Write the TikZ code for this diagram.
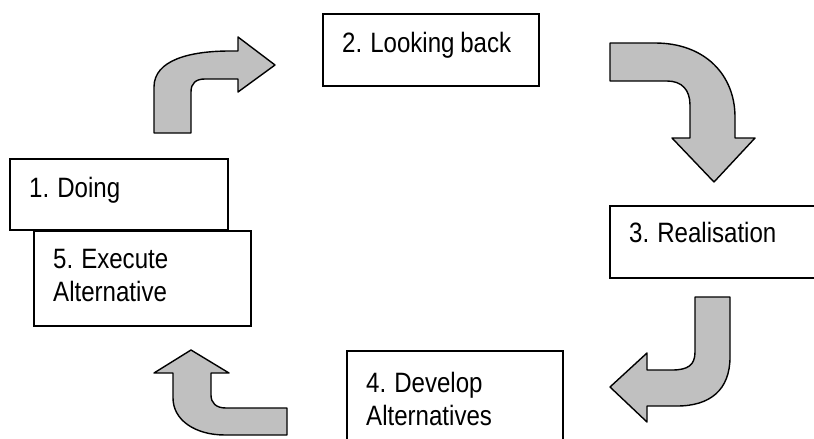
\documentclass[tikz,border=0pt]{standalone}
\usepackage{fontspec}
\usepackage{tikz}
\usetikzlibrary{positioning}

\newfontfamily\phasefont{Liberation Sans}[FakeStretch=0.86,WordSpace=0.86]
\definecolor{arrowgray}{RGB}{192,192,192}

\tikzset{
    phase/.style={draw,fill=white,line width=2pt,inner sep=0pt,anchor=north west},
    phasetxt/.style={inner sep=0pt,align=left,font=\phasefont\fontsize{28}{33}\selectfont},
    bentarrow/.style={draw,fill=arrowgray,line width=1.4pt,line join=round}
}

\begin{document}
\begin{tikzpicture}[x=1pt,y=-1pt]

\clip (0,0) rectangle (814,439);

\newcommand\phasebox[7]
{
    \node (#1) [phase,minimum width=#4pt,minimum height=#5pt] at (#2,#3) {};
    \node (#1txt) [phasetxt,below right=#6pt and 20pt of #1.north west] {\strut #7};
}

\phasebox{doing}{9}{158}{218}{71}{16}{1. Doing}
\phasebox{execute}{33}{230}{217}{95}{15}{5. Execute\\Alternative}
\phasebox{lookback}{322}{13}{216}{72}{16}{2. Looking back}
\phasebox{realise}{609}{205}{230}{72}{14}{3. Realisation}
\phasebox{develop}{346}{350}{216}{100}{19}{4. Develop\\Alternatives}

\draw [bentarrow] (154,133) -- (154,87) .. controls (154,60) and (190,51) .. (230,51) -- (238,51) -- (238,37) -- (275,65) -- (238,92) -- (238,79) -- (205,79) .. controls (196,79) and (191,83) .. (191,92) -- (191,133) -- cycle;

\draw [bentarrow] (610,43) -- (655,43) .. controls (705,43) and (735,75) .. (735,117) -- (735,138) -- (755,138) -- (714,182) -- (672,138) -- (690,138) -- (690,105) .. controls (690,90) and (682,81) .. (667,81) -- (610,81) -- cycle;

\draw [bentarrow] (695,297) -- (730,297) -- (730,357) .. controls (730,390) and (710,406) .. (677,406) -- (647,406) -- (647,422) -- (610,387) -- (647,353) -- (647,370) -- (672,370) .. controls (688,370) and (695,365) .. (695,352) -- cycle;

\draw [bentarrow] (287,408) -- (287,435) -- (225,435) .. controls (195,435) and (173,420) .. (173,398) -- (173,373) -- (154,373) -- (191,350) -- (229,373) -- (211,373) -- (211,395) .. controls (211,403) and (216,408) .. (226,408) -- cycle;

\end{tikzpicture}
\end{document}
